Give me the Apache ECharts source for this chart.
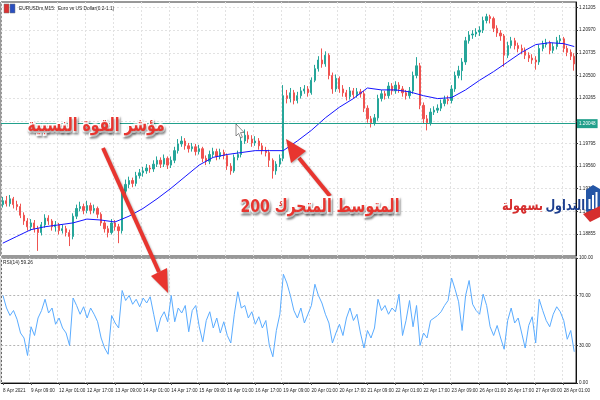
<!DOCTYPE html>
<html><head><meta charset="utf-8">
<script src="https://cdn.jsdelivr.net/npm/echarts@6/dist/echarts.min.js"></script>
<style>html,body{margin:0;padding:0;background:#fff}#c{width:600px;height:400px}</style>
</head><body><div id="c"></div>
<script>
// ---- data ----
const tickLabels = ['8 Apr 2021','9 Apr 09:00','12 Apr 01:00','12 Apr 17:00','13 Apr 09:00','14 Apr 01:00','14 Apr 17:00','15 Apr 09:00','16 Apr 01:00','16 Apr 17:00','19 Apr 09:00','20 Apr 01:00','20 Apr 17:00','21 Apr 09:00','22 Apr 01:00','22 Apr 17:00','23 Apr 09:00','26 Apr 01:00','26 Apr 17:00','27 Apr 09:00','28 Apr 01:00'];
const firstOpen = 1.1916;
const closes = [
1.1920,1.1917,1.1922,1.1916,1.1914,1.1905,1.1899,1.1893,1.1897,1.1891,
1.1887,1.1895,1.1902,1.1899,1.1893,1.1895,1.1889,1.1891,1.1887,1.1883,
1.1904,1.1912,1.1914,1.1910,1.1915,1.1910,1.1912,1.1906,1.1897,1.1891,
1.1887,1.1897,1.1893,1.1889,1.1930,1.1937,1.1941,1.1938,1.1946,1.1949,
1.1951,1.1954,1.1953,1.1958,1.1962,1.1958,1.1964,1.1957,1.1962,1.1972,
1.1979,1.1982,1.1977,1.1974,1.1976,1.1971,1.1974,1.1964,1.1961,1.1968,
1.1971,1.1966,1.1970,1.1967,1.1956,1.1951,1.1965,1.1968,1.1982,1.1988,
1.1984,1.1980,1.1982,1.1977,1.1972,1.1970,1.1962,1.1951,1.1958,1.1964,
1.2029,1.2026,1.2032,1.2024,1.2029,1.2034,1.2036,1.2032,1.2045,1.2057,
1.2066,1.2062,1.2071,1.2050,1.2036,1.2047,1.2036,1.2032,1.2028,1.2034,
1.2030,1.2033,1.2031,1.2016,1.2005,1.2001,1.2006,1.2026,1.2031,1.2029,
1.2039,1.2034,1.2040,1.2036,1.2032,1.2029,1.2034,1.2050,1.2060,1.2019,
1.2005,1.2001,1.2012,1.2014,1.2016,1.2021,1.2025,1.2024,1.2036,1.2050,
1.2055,1.2064,1.2086,1.2092,1.2093,1.2095,1.2097,1.2107,1.2111,1.2109,
1.2099,1.2094,1.2091,1.2071,1.2081,1.2086,1.2081,1.2078,1.2076,1.2071,
1.2068,1.2066,1.2064,1.2078,1.2082,1.2084,1.2076,1.2080,1.2086,1.2088,
1.2078,1.2074,1.2070,1.2062];
const highs = [
1.1924,1.1925,1.1926,1.1924,1.1920,1.1917,1.1908,1.1902,1.1901,1.1900,
1.1894,1.1898,1.1906,1.1905,1.1901,1.1899,1.1897,1.1895,1.1894,1.1890,
1.1907,1.1916,1.1919,1.1917,1.1920,1.1918,1.1916,1.1914,1.1908,1.1900,
1.1894,1.1901,1.1900,1.1896,1.1935,1.1942,1.1945,1.1944,1.1950,1.1953,
1.1955,1.1958,1.1957,1.1962,1.1966,1.1965,1.1968,1.1966,1.1966,1.1976,
1.1984,1.1987,1.1985,1.1980,1.1980,1.1979,1.1978,1.1976,1.1967,1.1972,
1.1975,1.1974,1.1974,1.1973,1.1969,1.1959,1.1968,1.1972,1.1987,1.1994,
1.1992,1.1988,1.1987,1.1985,1.1980,1.1976,1.1973,1.1964,1.1961,1.1968,
1.2040,1.2035,1.2037,1.2035,1.2033,1.2038,1.2040,1.2039,1.2048,1.2061,
1.2070,1.2078,1.2075,1.2073,1.2053,1.2051,1.2049,1.2040,1.2035,1.2038,
1.2037,1.2037,1.2036,1.2034,1.2019,1.2008,1.2010,1.2030,1.2035,1.2034,
1.2043,1.2042,1.2044,1.2043,1.2039,1.2035,1.2038,1.2054,1.2069,1.2063,
1.2022,1.2009,1.2016,1.2018,1.2020,1.2025,1.2029,1.2029,1.2040,1.2054,
1.2060,1.2068,1.2090,1.2096,1.2097,1.2099,1.2101,1.2111,1.2114,1.2113,
1.2111,1.2102,1.2097,1.2093,1.2085,1.2090,1.2089,1.2084,1.2082,1.2079,
1.2074,1.2072,1.2070,1.2082,1.2086,1.2088,1.2086,1.2084,1.2090,1.2092,
1.2090,1.2081,1.2077,1.2073];
const lows = [
1.1913,1.1914,1.1914,1.1912,1.1910,1.1902,1.1895,1.1889,1.1889,1.1887,
1.1868,1.1884,1.1892,1.1895,1.1889,1.1888,1.1885,1.1886,1.1883,1.1873,
1.1880,1.1901,1.1909,1.1906,1.1907,1.1906,1.1907,1.1902,1.1894,1.1887,
1.1882,1.1885,1.1889,1.1876,1.1886,1.1927,1.1933,1.1934,1.1935,1.1943,
1.1945,1.1948,1.1949,1.1950,1.1955,1.1954,1.1955,1.1953,1.1954,1.1959,
1.1969,1.1976,1.1973,1.1970,1.1971,1.1967,1.1968,1.1960,1.1957,1.1958,
1.1965,1.1962,1.1963,1.1963,1.1952,1.1947,1.1949,1.1962,1.1965,1.1979,
1.1980,1.1976,1.1977,1.1973,1.1968,1.1966,1.1955,1.1943,1.1947,1.1955,
1.1961,1.2021,1.2022,1.2020,1.2021,1.2026,1.2031,1.2028,1.2030,1.2043,
1.2054,1.2058,1.2059,1.2046,1.2031,1.2033,1.2032,1.2028,1.2024,1.2025,
1.2026,1.2027,1.2027,1.2012,1.2001,1.1996,1.1998,1.2003,1.2023,1.2025,
1.2026,1.2030,1.2031,1.2032,1.2028,1.2025,1.2026,1.2031,1.2047,1.2015,
1.2000,1.1993,1.1998,1.2009,1.2011,1.2013,1.2018,1.2020,1.2021,1.2033,
1.2047,1.2045,1.2061,1.2083,1.2088,1.2090,1.2091,1.2094,1.2104,1.2104,
1.2095,1.2090,1.2086,1.2059,1.2068,1.2078,1.2077,1.2074,1.2072,1.2067,
1.2064,1.2062,1.2056,1.2061,1.2075,1.2079,1.2072,1.2073,1.2077,1.2083,
1.2074,1.2070,1.2066,1.2055];
const maIndex = [0,4,8,12,16,20,24,28,32,36,40,44,48,52,56,60,64,68,72,76,80,84,88,92,96,100,104,108,112,116,120,124,128,132,136,140,144,148,152,156,160,163];
const maValues = [1.1876,1.1883,1.1890,1.1893,1.1895,1.1897,1.1901,1.1900,1.1898,1.1904,1.1912,1.1922,1.1933,1.1945,1.1957,1.1965,1.1968,1.1970,1.1972,1.1972,1.1972,1.1982,1.1993,1.2006,1.2017,1.2026,1.2037,1.2035,1.2035,1.2033,1.2029,1.2026,1.2027,1.2035,1.2045,1.2054,1.2064,1.2074,1.2082,1.2084,1.2083,1.2080];
const rsiValues = [
70,60,54,58,51,40,36,22,45,38,
52,58,67,56,60,47,52,44,40,30,
68,62,55,61,52,60,55,49,36,28,
23,54,48,44,74,66,70,63,67,61,
68,64,69,55,41,52,57,49,70,49,
60,56,62,41,58,62,45,33,50,57,
44,52,40,49,38,32,55,73,60,62,
52,57,47,53,44,50,30,21,42,55,
87,80,70,58,52,60,48,55,62,79,
70,64,55,48,32,40,47,38,52,60,
50,55,40,28,42,36,44,67,58,62,
55,60,57,71,38,50,66,45,62,30,
40,36,50,52,54,57,62,66,84,75,
65,42,70,82,63,58,55,71,62,45,
38,46,36,27,50,60,48,52,40,28,
46,53,32,67,58,50,45,55,61,57,
50,35,42,25];
const priceTicks = [1.18855,1.19090,1.19325,1.19560,1.19795,1.20030,1.20265,1.20500,1.20735,1.20970,1.21205];
const priceLabelTicks = [1.18855,1.19090,1.19325,1.19560,1.19795,1.20265,1.20500,1.20735,1.20970,1.21205];
const rsiTicks = [0,30,70,100];
const hLineValue = 1.20048;
const priceMin = 1.18627, priceMax = 1.21262;

// ---- build ----
const cats = closes.map((_, i) => String(i));
const candles = closes.map((c, i) => [i === 0 ? firstOpen : closes[i - 1], c, lows[i], highs[i]]);
const maData = maIndex.map((ix, k) => [ix, maValues[k]]);

const axFont = {fontSize: 4.6, fontFamily: 'Liberation Sans', color: '#222'};
const gridDash = {color: '#e2e2e2', type: [2, 2], width: 1};
const RED = '#e8352f';
const annFont = 'bold 18px "DejaVu Sans"';
const annStyle = (t) => ({text: t, font: annFont, fill: RED, stroke: '#fff', lineWidth: 3.5, strokeFirst: true,
  align: 'center', textAlign: 'center', verticalAlign: 'middle', textVerticalAlign: 'middle',
  textShadowColor: 'rgba(0,0,0,0.35)', textShadowBlur: 2, textShadowOffsetX: 1, textShadowOffsetY: 2});
const shadow = {shadowBlur: 2, shadowColor: 'rgba(0,0,0,0.3)', shadowOffsetX: 1, shadowOffsetY: 1};

const chart = echarts.init(document.getElementById('c'), null, {renderer: 'canvas'});
chart.setOption({
  animation: false,
  backgroundColor: '#fff',
  grid: [
    {left: 1, top: 2, width: 575, height: 254, show: true, borderColor: '#333', borderWidth: 1},
    {left: 1, top: 258, width: 575, height: 125, show: true, borderColor: '#333', borderWidth: 1}
  ],
  xAxis: [
    {type: 'category', gridIndex: 0, data: cats, boundaryGap: true,
     axisLine: {show: false}, axisTick: {show: false}, axisLabel: {show: false},
     splitLine: {show: true, interval: 7, lineStyle: gridDash}},
    {type: 'category', gridIndex: 1, data: cats, boundaryGap: true,
     axisLine: {show: true, lineStyle: {color: '#111'}},
     axisTick: {show: true, interval: 7, alignWithLabel: true, length: 2, lineStyle: {color: '#555'}},
     axisLabel: Object.assign({interval: 7, align: 'left', margin: 5,
       formatter: (v, idx) => (idx % 8 === 0 ? (tickLabels[idx / 8] || '') : '')}, axFont),
     splitLine: {show: true, interval: 7, lineStyle: gridDash}}
  ],
  yAxis: [
    {type: 'value', gridIndex: 0, position: 'right', min: priceMin, max: priceMax,
     axisLine: {show: true, lineStyle: {color: '#111'}},
     axisTick: {show: true, length: 2, customValues: priceTicks, lineStyle: {color: '#333'}},
     axisLabel: Object.assign({customValues: priceLabelTicks, margin: 3, formatter: v => v.toFixed(5)}, axFont),
     splitLine: {show: true, lineStyle: gridDash}},
    {type: 'value', gridIndex: 1, position: 'right', min: 0, max: 100,
     axisLine: {show: true, lineStyle: {color: '#111'}},
     axisTick: {show: true, length: 2, customValues: rsiTicks, lineStyle: {color: '#333'}},
     axisLabel: Object.assign({customValues: rsiTicks, margin: 3, formatter: v => v.toFixed(2)}, axFont),
     splitLine: {show: true, lineStyle: {color: '#b5b5b5', type: [2, 2], width: 1}}}
  ],
  series: [
    {type: 'candlestick', xAxisIndex: 0, yAxisIndex: 0, data: candles, barMaxWidth: 2.2,
     itemStyle: {color: '#26a69a', color0: '#ef5350', borderColor: '#26a69a', borderColor0: '#ef5350', borderWidth: 1},
     markLine: {silent: true, symbol: 'none', animation: false,
       data: [{yAxis: hLineValue}],
       lineStyle: {color: '#22a08c', width: 1, type: 'solid'},
       label: {show: true, position: 'end', distance: 1, formatter: hLineValue.toFixed(5),
         backgroundColor: '#22a08c', color: '#fff', fontSize: 4.6, fontFamily: 'Liberation Sans', padding: [2, 2]}}},
    {type: 'line', name: 'MA200', xAxisIndex: 0, yAxisIndex: 0, data: maData, showSymbol: false,
     lineStyle: {color: '#1515ff', width: 1}, z: 3},
    {type: 'line', name: 'RSI', xAxisIndex: 1, yAxisIndex: 1, data: rsiValues, showSymbol: false,
     lineStyle: {color: '#5aacff', width: 1}}
  ],
  graphic: [
    // header
    {type: 'rect', shape: {x: 4, y: 4, width: 5, height: 9}, style: {fill: '#d33', stroke: '#777', lineWidth: 0.5}, z: 50},
    {type: 'rect', shape: {x: 10, y: 4, width: 5, height: 9}, style: {fill: '#2a4fc0', stroke: '#777', lineWidth: 0.5}, z: 50},
    {type: 'text', x: 19, y: 9, z: 50, style: {text: 'EURUSDm,M15:  Euro vs US Dollar(0.2-1.1)', font: '4.8px "Liberation Sans"', fill: '#222', verticalAlign: 'middle', textVerticalAlign: 'middle'}},
    {type: 'text', x: 3, y: 263, z: 50, style: {text: 'RSI(14) 59.26', font: '4.8px "Liberation Sans"', fill: '#222', verticalAlign: 'middle', textVerticalAlign: 'middle'}},
    // cursor
    {type: 'polygon', z: 50, shape: {points: [[236,124],[236,136],[238.6,133.4],[240.6,138],[242.4,137.2],[240.5,132.6],[244,132.4]]}, style: {fill: '#fff', stroke: '#444', lineWidth: 0.6}},
    // arrow 1
    {type: 'line', z: 60, shape: {x1: 103, y1: 148, x2: 159, y2: 272}, style: Object.assign({stroke: RED, lineWidth: 4}, shadow)},
    {type: 'polygon', z: 60, shape: {points: [[151,276],[168,293],[167,268]]}, style: Object.assign({fill: RED}, shadow)},
    // arrow 2
    {type: 'line', z: 60, shape: {x1: 330, y1: 196, x2: 299, y2: 158}, style: Object.assign({stroke: RED, lineWidth: 4}, shadow)},
    {type: 'polygon', z: 60, shape: {points: [[306,151],[286,139],[291,163]]}, style: Object.assign({fill: RED}, shadow)},
    // annotation texts
    {type: 'text', x: 96, y: 126, scaleX: 0.78, z: 70, style: annStyle('مؤشر القوة النسبية')},
    {type: 'text', x: 320, y: 207, scaleX: 0.78, z: 70, style: annStyle('المتوسط المتحرك 200')},
    // logo
    {type: 'text', x: 585, y: 206, scaleX: 0.8, z: 70, style: {text: 'التداول', font: 'bold 14px "DejaVu Sans"', fill: '#1d3f8f', align: 'right', textAlign: 'right', verticalAlign: 'middle', textVerticalAlign: 'middle'}},
    {type: 'text', x: 543, y: 206, scaleX: 0.8, z: 70, style: {text: 'بسهولة', font: 'bold 14px "DejaVu Sans"', fill: '#d62e2e', align: 'right', textAlign: 'right', verticalAlign: 'middle', textVerticalAlign: 'middle'}},
    {type: 'polygon', z: 70, shape: {points: [[586,190],[593,185],[600,189],[600,211],[593,216],[586,211]]}, style: {fill: '#2456a6'}},
    {type: 'rect', z: 71, shape: {x: 588.5, y: 199, width: 2, height: 10}, style: {fill: '#fff'}},
    {type: 'rect', z: 71, shape: {x: 592, y: 195, width: 2, height: 14}, style: {fill: '#fff'}},
    {type: 'rect', z: 71, shape: {x: 595.5, y: 192, width: 2, height: 17}, style: {fill: '#fff'}},
    {type: 'polygon', z: 71, shape: {points: [[583,214],[600,206],[600,217],[590,222]]}, style: {fill: '#d62e2e'}}
  ]
});
</script></body></html>
